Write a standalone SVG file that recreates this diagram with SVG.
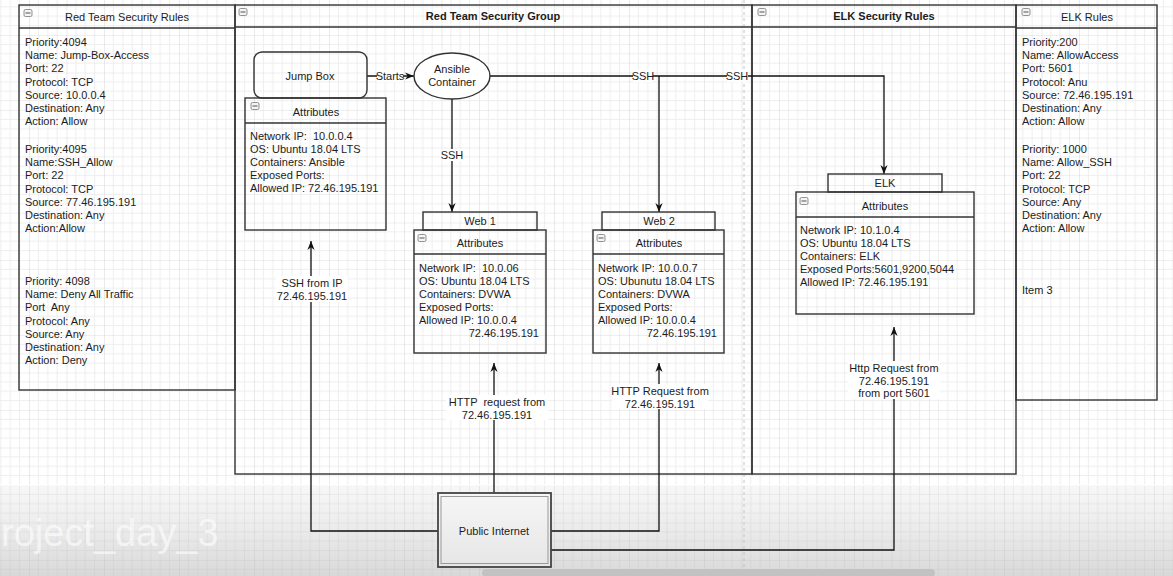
<svg xmlns="http://www.w3.org/2000/svg" width="1173" height="576" viewBox="0 0 1173 576">
<defs>
<pattern id="grid" x="29" y="35" width="37.5" height="37.5" patternUnits="userSpaceOnUse">
<path d="M9.375,0V37.5M18.75,0V37.5M28.125,0V37.5M0,9.375H37.5M0,18.75H37.5M0,28.125H37.5" stroke="#eeeeee" stroke-width="1" fill="none"/>
<path d="M0,0V37.5M0,0H37.5" stroke="#dddddd" stroke-width="1.2" fill="none"/>
</pattern>
<linearGradient id="fade" x1="0" y1="0" x2="0" y2="1">
<stop offset="0" stop-color="#d8d8d8" stop-opacity="0.2"/>
<stop offset="1" stop-color="#b8b8b8" stop-opacity="0.55"/>
</linearGradient>
<linearGradient id="pifill" x1="0" y1="0" x2="0" y2="1">
<stop offset="0" stop-color="#f6f6f6"/>
<stop offset="1" stop-color="#e6e6e6"/>
</linearGradient>
<marker id="arr" viewBox="0 0 10 10" refX="10" refY="5" markerWidth="9" markerHeight="9" markerUnits="userSpaceOnUse" orient="auto">
<path d="M0,1 L10,5 L0,9 L3,5 z" fill="#111"/>
</marker>
<g id="ico">
<rect x="-4" y="-3.5" width="8" height="7" rx="1.5" fill="#f4f4f4" stroke="#777" stroke-width="0.8"/>
<path d="M-2.5,0H2.5" stroke="#555" stroke-width="1"/>
</g>
</defs>
<style>
text{font-family:"Liberation Sans",Arial,Helvetica,sans-serif;font-size:11px;fill:#1c1c1c;white-space:pre}
.t{font-weight:bold}
.c{text-anchor:middle}
.e{text-anchor:end}
.box{fill:none;stroke:#333;stroke-width:1.4}
.sep{stroke:#333;stroke-width:1.4}
.edge{fill:none;stroke:#111;stroke-width:1.3}
.lbl{fill:#fff}
</style>
<rect width="1173" height="576" fill="#fff"/>
<rect width="1173" height="576" fill="url(#grid)"/>
<path d="M744,0V576" stroke="#c4c4c4" stroke-width="1" stroke-dasharray="3 3"/>
<rect x="0" y="485" width="1173" height="91" fill="url(#fade)"/>
<line x1="0" y1="485" x2="1173" y2="485" stroke="#fff" stroke-opacity="0.7" stroke-width="2"/>
<text x="1" y="546" style="font-size:38px;fill:#ffffff;fill-opacity:0.6">roject_day_3</text>

<g id="red-team-security-rules">
<rect class="box" x="19" y="5" width="216" height="385"/>
<line class="sep" x1="19" y1="28" x2="235" y2="28"/>
<use href="#ico" x="28" y="13"/>
<text class="c" x="127" y="21">Red Team Security Rules</text>
<text x="25" y="46"><tspan x="25">Priority:4094</tspan><tspan x="25" dy="13.2">Name: Jump-Box-Access</tspan><tspan x="25" dy="13.2">Port: 22</tspan><tspan x="25" dy="13.2">Protocol: TCP</tspan><tspan x="25" dy="13.2">Source: 10.0.0.4</tspan><tspan x="25" dy="13.2">Destination: Any</tspan><tspan x="25" dy="13.2">Action: Allow</tspan></text>
<text x="25" y="153"><tspan x="25">Priority:4095</tspan><tspan x="25" dy="13.2">Name:SSH_Allow</tspan><tspan x="25" dy="13.2">Port: 22</tspan><tspan x="25" dy="13.2">Protocol: TCP</tspan><tspan x="25" dy="13.2">Source: 77.46.195.191</tspan><tspan x="25" dy="13.2">Destination: Any</tspan><tspan x="25" dy="13.2">Action:Allow</tspan></text>
<text x="25" y="285"><tspan x="25">Priority: 4098</tspan><tspan x="25" dy="13.2">Name: Deny All Traffic</tspan><tspan x="25" dy="13.2">Port  Any</tspan><tspan x="25" dy="13.2">Protocol: Any</tspan><tspan x="25" dy="13.2">Source: Any</tspan><tspan x="25" dy="13.2">Destination: Any</tspan><tspan x="25" dy="13.2">Action: Deny</tspan></text>
</g>

<g id="red-team-security-group">
<rect class="box" x="235" y="5" width="517" height="469"/>
<line class="sep" x1="235" y1="27" x2="752" y2="27"/>
<use href="#ico" x="243" y="12"/>
<text class="t c" x="493" y="20">Red Team Security Group</text>
</g>

<g id="elk-security-rules">
<rect class="box" x="752" y="5" width="264" height="469"/>
<line class="sep" x1="752" y1="27" x2="1016" y2="27"/>
<use href="#ico" x="762" y="12"/>
<text class="t c" x="884" y="20">ELK Security Rules</text>
</g>

<g id="elk-rules">
<rect class="box" x="1016" y="5" width="141" height="395"/>
<line class="sep" x1="1016" y1="28" x2="1157" y2="28"/>
<use href="#ico" x="1026" y="12"/>
<text class="c" x="1087" y="21">ELK Rules</text>
<text x="1022" y="46"><tspan x="1022">Priority:200</tspan><tspan x="1022" dy="13.2">Name: AllowAccess</tspan><tspan x="1022" dy="13.2">Port: 5601</tspan><tspan x="1022" dy="13.2">Protocol: Anu</tspan><tspan x="1022" dy="13.2">Source: 72.46.195.191</tspan><tspan x="1022" dy="13.2">Destination: Any</tspan><tspan x="1022" dy="13.2">Action: Allow</tspan></text>
<text x="1022" y="153"><tspan x="1022">Priority: 1000</tspan><tspan x="1022" dy="13.2">Name: Allow_SSH</tspan><tspan x="1022" dy="13.2">Port: 22</tspan><tspan x="1022" dy="13.2">Protocol: TCP</tspan><tspan x="1022" dy="13.2">Source: Any</tspan><tspan x="1022" dy="13.2">Destination: Any</tspan><tspan x="1022" dy="13.2">Action: Allow</tspan></text>
<text x="1022" y="294">Item 3</text>
</g>

<g id="connectors">
<path class="edge" d="M367,76H414" marker-end="url(#arr)"/>
<path class="edge" d="M452,99V212" marker-end="url(#arr)"/>
<path class="edge" d="M490,76H884V174" marker-end="url(#arr)"/>
<path class="edge" d="M659,76V212" marker-end="url(#arr)"/>
<path class="edge" d="M438,531H311V241" marker-end="url(#arr)"/>
<path class="edge" d="M494,493V363" marker-end="url(#arr)"/>
<path class="edge" d="M551,531H659V363" marker-end="url(#arr)"/>
<path class="edge" d="M551,550H894V327" marker-end="url(#arr)"/>
<rect class="lbl" x="377" y="70" width="26" height="12"/>
<text class="c" x="390" y="80">Starts</text>
<rect class="lbl" x="442" y="149" width="20" height="12"/>
<text class="c" x="452" y="159">SSH</text>
<rect class="lbl" x="633" y="70" width="20" height="12"/>
<text class="c" x="643" y="80">SSH</text>
<rect class="lbl" x="727" y="70" width="21" height="12"/>
<text class="c" x="737" y="80">SSH</text>
<rect class="lbl" x="276" y="276" width="72" height="26"/>
<text class="c" x="312" y="287"><tspan x="312">SSH from IP</tspan><tspan x="312" dy="13">72.46.195.191</tspan></text>
<rect class="lbl" x="446" y="395" width="102" height="25"/>
<text class="c" x="497" y="406"><tspan x="497">HTTP  request from</tspan><tspan x="497" dy="12.5">72.46.195.191</tspan></text>
<rect class="lbl" x="612" y="384" width="96" height="25"/>
<text class="c" x="660" y="395"><tspan x="660">HTTP Request from</tspan><tspan x="660" dy="12.5">72.46.195.191</tspan></text>
<rect class="lbl" x="848" y="361" width="92" height="38"/>
<text class="c" x="894" y="372"><tspan x="894">Http Request from</tspan><tspan x="894" dy="12.5">72.46.195.191</tspan><tspan x="894" dy="12.5">from port 5601</tspan></text>
</g>

<g id="jump-box">
<rect class="box" x="254" y="52" width="113" height="46" rx="8"/>
<text class="c" x="310" y="80">Jump Box</text>
</g>

<g id="jump-box-attributes">
<rect class="box" x="245" y="98" width="141" height="132"/>
<line class="sep" x1="245" y1="123" x2="386" y2="123"/>
<use href="#ico" x="255" y="106"/>
<text class="c" x="316" y="116">Attributes</text>
<text x="250" y="140"><tspan x="250">Network IP:  10.0.0.4</tspan><tspan x="250" dy="13">OS: Ubuntu 18.04 LTS</tspan><tspan x="250" dy="13">Containers: Ansible</tspan><tspan x="250" dy="13">Exposed Ports:</tspan><tspan x="250" dy="13">Allowed IP: 72.46.195.191</tspan></text>
</g>

<g id="ansible-container">
<ellipse cx="452" cy="76" rx="38" ry="23" fill="#fff" stroke="#333" stroke-width="1.4"/>
<text class="c" x="452" y="73"><tspan x="452">Ansible</tspan><tspan x="452" dy="13">Container</tspan></text>
</g>

<g id="web1">
<rect class="box" x="423" y="212" width="114" height="18"/>
<text class="c" x="480" y="225">Web 1</text>
<rect class="box" x="414" y="230" width="132" height="123"/>
<line class="sep" x1="414" y1="254" x2="546" y2="254"/>
<use href="#ico" x="422" y="238"/>
<text class="c" x="480" y="247">Attributes</text>
<text x="419" y="272"><tspan x="419">Network IP:  10.0.06</tspan><tspan x="419" dy="12.9">OS: Ubuntu 18.04 LTS</tspan><tspan x="419" dy="12.9">Containers: DVWA</tspan><tspan x="419" dy="12.9">Exposed Ports:</tspan><tspan x="419" dy="12.9">Allowed IP: 10.0.0.4</tspan></text>
<text class="e" x="539" y="337">72.46.195.191</text>
</g>

<g id="web2">
<rect class="box" x="602" y="212" width="113" height="18"/>
<text class="c" x="659" y="225">Web 2</text>
<rect class="box" x="593" y="230" width="131" height="123"/>
<line class="sep" x1="593" y1="254" x2="724" y2="254"/>
<use href="#ico" x="601" y="238"/>
<text class="c" x="659" y="247">Attributes</text>
<text x="598" y="272"><tspan x="598">Network IP: 10.0.0.7</tspan><tspan x="598" dy="12.9">OS: Ubunutu 18.04 LTS</tspan><tspan x="598" dy="12.9">Containers: DVWA</tspan><tspan x="598" dy="12.9">Exposed Ports:</tspan><tspan x="598" dy="12.9">Allowed IP: 10.0.0.4</tspan></text>
<text class="e" x="717" y="337">72.46.195.191</text>
</g>

<g id="elk">
<rect class="box" x="828" y="174" width="114" height="18"/>
<text class="c" x="885" y="187">ELK</text>
<rect class="box" x="796" y="192" width="178" height="122"/>
<line class="sep" x1="796" y1="217" x2="974" y2="217"/>
<use href="#ico" x="804" y="201"/>
<text class="c" x="885" y="210">Attributes</text>
<text x="800" y="234"><tspan x="800">Network IP: 10.1.0.4</tspan><tspan x="800" dy="13">OS: Ubuntu 18.04 LTS</tspan><tspan x="800" dy="13">Containers: ELK</tspan><tspan x="800" dy="13">Exposed Ports:5601,9200,5044</tspan><tspan x="800" dy="13">Allowed IP: 72.46.195.191</tspan></text>
</g>

<g id="public-internet">
<rect x="438" y="493" width="113" height="74" fill="url(#pifill)" stroke="#444" stroke-width="1.8"/>
<rect x="441" y="496.5" width="107" height="67" fill="none" stroke="#999" stroke-width="1"/>
<text class="c" x="494" y="535">Public Internet</text>
</g>

<rect x="482" y="569" width="453" height="8" rx="4" fill="#c2c2c2"/>
</svg>
